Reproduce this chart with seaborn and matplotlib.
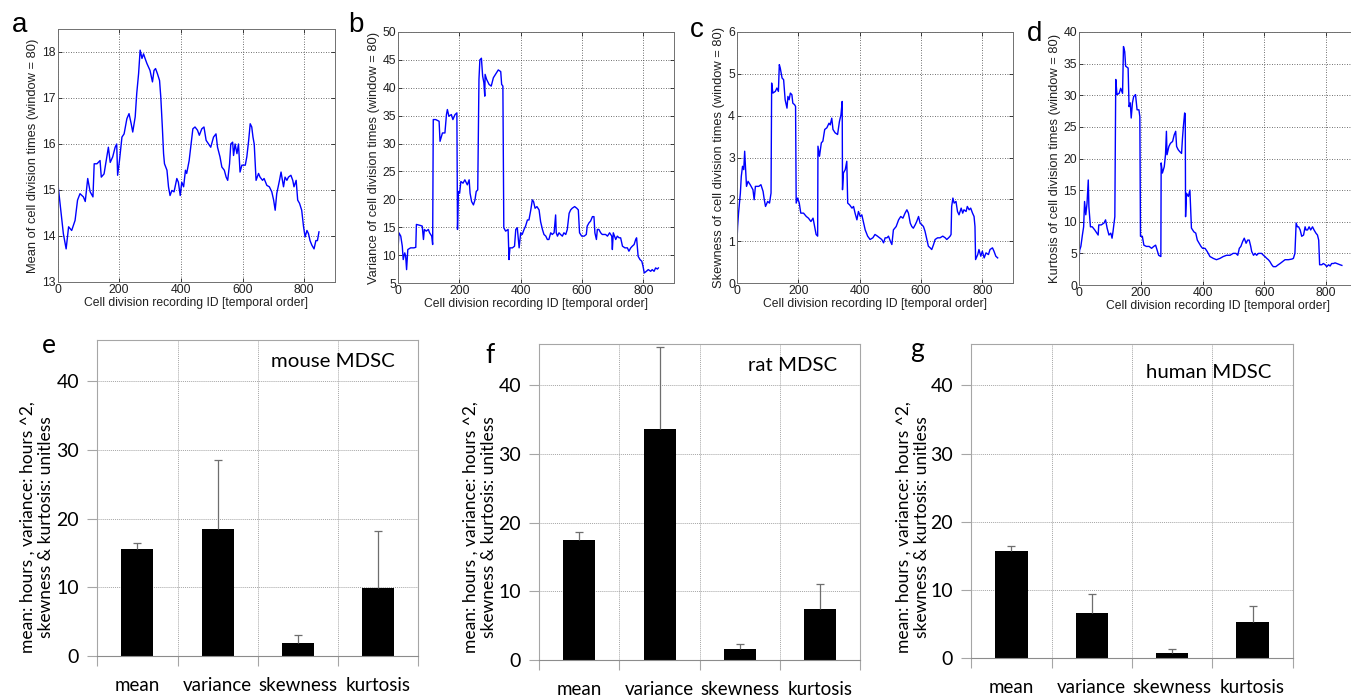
import matplotlib
matplotlib.use("Agg")
import matplotlib.pyplot as plt
import seaborn as sns
import numpy as np

# ---------------- rolling-window statistics (window = 80) ----------------
mean_pts = [(0,15.32),(3,15.03),(19,14.05),(28,13.72),(36,14.2),(46,14.12),(57,14.34),(65,14.78),(73,14.92),
    (84,14.85),(90,14.75),(95,15.07),(98,15.25),(106,14.96),(115,14.85),(119,15.57),(128,15.57),(138,15.64),
    (142,15.28),(151,15.35),(160,15.72),(165,15.93),(171,15.6),(179,15.72),(187,15.93),(192,16.0),(195,15.32),
    (201,15.64),(209,16.15),(216,16.22),(225,16.55),(232,16.66),(239,16.44),(244,16.26),(252,16.59),(257,17.1),
    (263,17.53),(268,18.04),(274,17.86),(279,17.96),(284,17.86),(290,17.75),(300,17.6),(308,17.35),(313,17.6),
    (318,17.64),(324,17.53),(331,17.38),(335,17.02),(340,16.37),(344,15.79),(347,15.57),(355,15.43),(360,15.07),
    (365,14.88),(371,14.99),(378,14.96),(387,15.25),(392,15.17),(398,14.88),(403,15.17),(409,15.07),(415,15.43),
    (419,15.36),(427,15.64),(432,15.93),(439,16.33),(446,16.37),(454,16.3),(460,16.19),(468,16.33),(475,16.37),
    (482,16.08),(490,16.0),(497,15.93),(506,16.15),(514,16.22),(519,15.93),(527,15.72),(533,15.5),(541,15.43),
    (547,15.28),(552,15.21),(558,15.57),(562,16.0),(568,16.04),(571,15.75),(576,16.0),(582,15.79),(587,16.0),
    (592,15.39),(598,15.54),(609,15.54),(614,15.72),(620,16.08),(625,16.44),(630,16.37),(634,16.15),(638,16.0),
    (644,15.21),(652,15.36),(657,15.28),(665,15.21),(670,15.25),(679,15.1),(687,15.07),(695,14.96),(701,14.78),
    (706,14.56),(711,14.92),(720,15.21),(725,15.39),(733,15.07),(738,15.28),(744,15.21),(749,15.28),(757,15.32),
    (763,15.21),(767,15.07),(774,15.21),(779,14.78),(785,14.71),(792,14.56),(798,14.2),(803,13.98),(809,14.12),
    (814,14.05),(819,13.9),(825,13.8),(832,13.72),(838,13.9),(843,13.9),(848,14.09)]

var_pts = [(0,15.2),(1,11.9),(3,14.0),(9,13.4),(14,11.6),(17,9.2),(22,10.4),(25,9.8),(28,7.4),(32,11.0),
    (41,11.3),(52,11.3),(58,11.4),(60,15.5),(74,15.3),(79,15.2),(83,12.8),(86,14.6),(92,14.3),(99,14.6),
    (103,14.0),(110,13.4),(113,11.9),(115,34.3),(123,34.3),(134,34.0),(137,30.4),(145,31.9),(153,31.9),
    (158,35.2),(161,36.1),(166,34.9),(174,35.2),(179,34.3),(186,35.2),(192,35.5),(194,14.6),(197,21.4),
    (201,21.1),(205,23.2),(212,22.9),(218,23.5),(226,22.6),(232,23.5),(235,21.1),(240,19.6),(246,19.0),
    (251,19.9),(255,21.4),(260,21.7),(264,41.5),(267,45.0),(272,45.3),(276,42.1),(280,40.9),(283,38.5),
    (284,42.4),(289,41.5),(297,40.6),(304,40.3),(311,41.8),(318,42.4),(327,43.2),(335,42.9),(338,40.6),
    (342,40.3),(345,14.9),(351,14.3),(359,14.6),(362,9.2),(365,11.3),(373,11.3),(380,11.6),(384,14.6),
    (389,14.9),(395,11.3),(400,14.0),(405,13.7),(411,14.6),(416,15.2),(422,16.3),(427,16.3),(433,18.1),
    (438,19.9),(442,19.6),(447,18.4),(453,18.7),(460,18.1),(465,16.0),(471,14.6),(476,13.7),(482,13.4),
    (487,12.8),(492,12.8),(498,14.0),(503,13.7),(509,14.0),(514,17.2),(516,14.0),(520,13.4),(525,14.0),
    (530,13.7),(536,13.4),(541,14.0),(547,13.7),(552,14.6),(558,17.5),(563,18.1),(568,18.4),(576,18.7),
    (583,18.4),(588,18.1),(592,14.0),(599,13.4),(607,13.4),(614,13.7),(617,15.2),(623,15.8),(628,16.1),
    (634,16.9),(639,16.9),(642,14.0),(647,12.8),(650,14.6),(655,14.6),(661,14.0),(666,13.7),(677,13.7),
    (683,13.4),(690,14.0),(697,13.4),(699,11.0),(702,14.0),(710,12.8),(715,13.4),(721,13.1),(726,13.1),
    (732,11.6),(740,11.3),(748,11.3),(753,10.7),(759,11.3),(764,11.6),(770,11.9),(775,12.8),(778,13.1),
    (783,9.8),(789,9.2),(795,8.9),(799,8.0),(803,6.8),(810,7.1),(816,7.4),(824,7.1),(829,7.4),(835,7.1),
    (840,7.7),(846,7.5),(849,7.7)]

skew_pts = [(0,1.0),(2,1.35),(5,1.67),(11,2.15),(14,2.55),(18,2.79),(22,2.71),(25,3.15),(28,2.71),(31,2.31),
    (36,2.43),(43,2.35),(52,2.23),(56,1.99),(60,2.31),(71,2.31),(78,2.35),(85,2.19),(89,1.99),(93,1.83),
    (100,1.95),(106,1.91),(111,2.15),(113,4.78),(117,4.54),(125,4.58),(130,4.66),(135,4.58),(138,5.22),
    (141,5.14),(147,4.9),(152,4.86),(157,4.38),(163,4.18),(166,4.46),(170,4.38),(174,4.54),(179,4.5),
    (182,4.3),(188,4.26),(191,4.22),(193,1.91),(198,2.03),(203,1.91),(208,1.67),(217,1.67),(226,1.59),
    (233,1.55),(241,1.47),(248,1.55),(253,1.35),(258,1.16),(263,1.12),(264,3.27),(269,3.03),(275,3.35),
    (280,3.39),(286,3.67),(293,3.71),(300,3.82),(304,3.78),(309,3.94),(313,3.67),(320,3.59),(328,3.55),
    (334,3.86),(339,4.02),(343,4.34),(344,2.23),(347,2.63),(353,2.71),(358,2.91),(361,1.91),(367,1.87),
    (375,1.79),(380,1.83),(385,1.67),(391,1.51),(396,1.71),(402,1.59),(407,1.63),(413,1.43),(418,1.27),
    (426,1.12),(434,1.04),(443,1.08),(450,1.16),(458,1.12),(465,1.08),(472,1.04),(478,0.96),(483,1.08),
    (489,1.08),(494,1.12),(500,1.0),(505,0.92),(510,1.27),(519,1.35),(527,1.51),(534,1.59),(541,1.55),
    (548,1.67),(554,1.75),(559,1.67),(565,1.43),(570,1.35),(575,1.31),(581,1.39),(586,1.47),(592,1.59),
    (597,1.43),(603,1.39),(608,1.35),(613,1.24),(619,1.04),(624,0.88),(630,0.84),(635,0.8),(641,0.92),
    (646,1.04),(654,1.08),(662,1.08),(671,1.12),(679,1.08),(684,1.04),(690,1.08),(695,1.12),(698,1.16),
    (700,1.83),(704,2.03),(708,1.91),(714,1.95),(719,1.71),(724,1.63),(731,1.79),(736,1.67),(740,1.75),
    (747,1.71),(751,1.83),(757,1.75),(762,1.79),(768,1.67),(773,1.59),(776,1.35),(778,0.56),(785,0.68),
    (789,0.8),(795,0.64),(800,0.76),(806,0.6),(812,0.72),(820,0.68),(825,0.8),(833,0.84),(838,0.76),
    (844,0.64),(850,0.6)]

kurt_pts = [(0,3.7),(2,5.5),(6,6.1),(11,7.9),(15,9.2),(18,13.2),(22,11.1),(26,12.9),(30,16.6),(32,12.4),
    (37,9.2),(43,9.2),(51,8.7),(58,8.2),(62,7.9),(64,9.5),(72,9.5),(81,9.8),(86,10.3),(91,9.0),(97,7.9),
    (103,8.2),(107,7.4),(110,8.4),(116,10.8),(119,32.5),(123,30.1),(130,30.3),(135,31.1),(141,30.3),
    (144,37.7),(148,36.9),(151,34.6),(159,34.3),(162,28.2),(166,28.8),(169,26.4),(173,28.8),(177,29.8),
    (183,30.1),(188,27.7),(194,27.7),(197,26.6),(199,7.7),(205,7.7),(210,6.3),(218,6.1),(227,6.1),
    (235,5.8),(242,6.1),(248,6.3),(253,5.5),(258,4.7),(265,4.5),(266,19.3),(270,17.7),(276,18.7),
    (280,20.6),(283,24.3),(285,20.6),(291,21.9),(296,22.4),(303,22.7),(308,23.7),(313,24.3),(316,21.9),
    (321,21.4),(326,21.1),(332,20.8),(335,23.2),(338,25.1),(342,27.2),(344,27.0),(345,10.8),(348,14.5),
    (354,14.0),(359,15.0),(364,9.0),(368,8.7),(372,8.4),(378,8.2),(383,7.1),(389,6.6),(395,6.1),(400,5.8),
    (408,5.8),(415,5.3),(424,4.5),(435,4.2),(445,4.0),(456,4.2),(467,4.5),(478,4.7),(489,4.7),(499,5.0),
    (508,5.0),(514,4.7),(519,5.8),(524,6.1),(530,6.9),(535,7.4),(541,6.6),(546,7.1),(551,7.1),(556,6.1),
    (559,5.3),(565,4.7),(570,5.0),(575,4.7),(581,5.0),(586,5.0),(591,5.0),(597,4.7),(602,4.5),(608,4.2),
    (613,4.0),(618,3.7),(624,3.2),(629,2.9),(637,2.9),(645,3.2),(651,3.4),(659,3.7),(667,4.0),(678,4.0),
    (689,4.1),(694,4.2),(699,5.0),(703,9.8),(707,9.2),(711,9.2),(716,8.7),(721,7.7),(727,7.9),(732,9.2),
    (735,8.7),(740,8.7),(745,9.2),(750,8.7),(756,9.2),(761,8.7),(767,8.2),(772,7.9),(776,7.1),(779,3.2),
    (786,3.2),(791,3.4),(797,3.2),(802,2.9),(808,3.2),(813,3.0),(818,3.4),(824,3.4),(829,3.5),(835,3.4),
    (840,3.3),(845,3.2),(851,3.1)]

# ---------------- summary statistics per cell type ----------------
categories = ["mean", "variance", "skewness", "kurtosis"]
mouse_vals = [15.6, 18.5, 1.95, 9.9]
mouse_err = [0.8, 10.1, 1.1, 8.3]
rat_vals = [17.5, 33.7, 1.56, 7.4]
rat_err = [1.1, 11.9, 0.75, 3.65]
human_vals = [15.7, 6.6, 0.8, 5.3]
human_err = [0.7, 2.8, 0.5, 2.3]

W, H = 1351, 697
fig = plt.figure(figsize=(W / 100, H / 100), dpi=100)

def px_rect(left, right, top, bottom):
    return [left / W, (H - bottom) / H, (right - left) / W, (bottom - top) / H]

TOP_FONT = "Liberation Sans"
BOT_FONT = "Lato"

top_specs = [
    ("a", mean_pts, px_rect(57.5, 335, 29, 282), (13, 18.5), [13, 14, 15, 16, 17, 18],
     "Mean of cell division times (window = 80)", (12, 32)),
    ("b", var_pts, px_rect(398, 674, 32, 283), (5, 50), list(range(5, 51, 5)),
     "Variance of cell division times (window = 80)", (348, 32)),
    ("c", skew_pts, px_rect(737, 1013, 32, 283), (0, 6), [0, 1, 2, 3, 4, 5, 6],
     "Skewness of cell division times (window = 80)", (690, 37)),
    ("d", kurt_pts, px_rect(1079, 1357, 32, 285), (0, 40), list(range(0, 41, 5)),
     "Kurtosis of cell division times (window = 80)", (1027, 41)),
]

for letter, pts, rect, ylim, yticks, ylabel, lpos in top_specs:
    ax = fig.add_axes(rect)
    xs = [p[0] for p in pts]
    ys = [p[1] for p in pts]
    sns.lineplot(x=xs, y=ys, ax=ax, color="#0000ff", linewidth=1.0, sort=False, estimator=None)
    ax.set_xlim(0, 900)
    ax.set_ylim(*ylim)
    ax.set_xticks([0, 200, 400, 600, 800])
    ax.set_yticks(yticks)
    ax.grid(True, linestyle=(0, (1, 2)), color="#404040", linewidth=0.6)
    ax.tick_params(direction="in", top=True, right=True, length=3, width=0.6,
                   labelsize=8.8, pad=1.5, colors="#202020")
    for lab in ax.get_xticklabels() + ax.get_yticklabels():
        lab.set_fontfamily(TOP_FONT)
    for s in ax.spines.values():
        s.set_color("#707070")
        s.set_linewidth(0.7)
    ax.set_xlabel("Cell division recording ID [temporal order]", fontsize=8.7, family=TOP_FONT,
                  labelpad=1, color="#202020")
    ax.set_ylabel(ylabel, fontsize=9.3, family=TOP_FONT, labelpad=2, color="#202020")
    fig.text(lpos[0] / W, 1 - lpos[1] / H, letter, fontsize=20, family=TOP_FONT, va="baseline", ha="left")

bot_specs = [
    ("e", "mouse MDSC", mouse_vals, mouse_err, px_rect(97.3, 418.3, 340, 656), (42, 353), (3.21, 42.9), (37, 527)),
    ("f", "rat MDSC", rat_vals, rat_err, px_rect(539.3, 860, 344.3, 660), (485, 363), (3.21, 42.9), (480, 527)),
    ("g", "human MDSC", human_vals, human_err, px_rect(971.3, 1292.7, 344.3, 658.3), (910, 357), (3.24, 41.9), (913, 527)),
]

GRID_GREY = "#a6a6a6"
for letter, title, vals, errs, rect, lpos, tpos, ypos in bot_specs:
    ax = fig.add_axes(rect)
    sns.barplot(x=categories, y=vals, color="black", width=0.4, ax=ax, saturation=1, zorder=2)
    # plus-only error bars: stem from the bar top, cap only at the upper end
    eb = ax.errorbar(x=np.arange(len(categories)), y=vals, yerr=[np.zeros(len(vals)), errs],
                     fmt="none", ecolor="#6e6e6e", elinewidth=0.9, capsize=3, capthick=0.9, zorder=3)
    eb[1][0].set_visible(False)
    ax.set_xlim(-0.5, 3.5)
    ax.set_ylim(0, 46)
    ax.set_xlabel("")
    ax.set_ylabel("")
    ax.set_xticks([-0.5, 0.5, 1.5, 2.5, 3.5])
    ax.set_xticklabels([])
    ax.set_xticks([0, 1, 2, 3], minor=True)
    ax.set_xticklabels(categories, minor=True, fontsize=13.5, family=BOT_FONT)
    ax.tick_params(axis="x", which="major", direction="out", length=7, width=0.8, color=GRID_GREY)
    ax.tick_params(axis="x", which="minor", length=0, pad=15, colors="black")
    ax.set_yticks([0, 10, 20, 30, 40])
    ax.set_yticklabels(["0", "10", "20", "30", "40"], fontsize=14, family=BOT_FONT)
    ax.tick_params(axis="y", direction="out", length=7, width=0.8, color=GRID_GREY, pad=6)
    ax.grid(True, axis="y", linestyle=(0, (1, 1)), color=GRID_GREY, linewidth=0.7, zorder=0)
    ax.grid(True, axis="x", which="major", linestyle=(0, (1, 1)), color=GRID_GREY, linewidth=0.7, zorder=0)
    ax.set_axisbelow(True)
    for s in ax.spines.values():
        s.set_color(GRID_GREY)
        s.set_linewidth(0.8)
    ax.spines["bottom"].set_color("#8c8c8c")
    ax.text(tpos[0], tpos[1], title, ha="right", va="center", fontsize=14.7, family=BOT_FONT)
    fig.text(lpos[0] / W, 1 - lpos[1] / H, letter, fontsize=19, family=BOT_FONT, va="baseline", ha="left")
    fig.text(ypos[0] / W, 1 - ypos[1] / H,
             "mean: hours , variance: hours ^2,\nskewness & kurtosis: unitless",
             rotation=90, ha="center", va="center", fontsize=12.5, family=BOT_FONT,
             multialignment="center", linespacing=1.15)

fig.savefig("out.png", dpi=100)
